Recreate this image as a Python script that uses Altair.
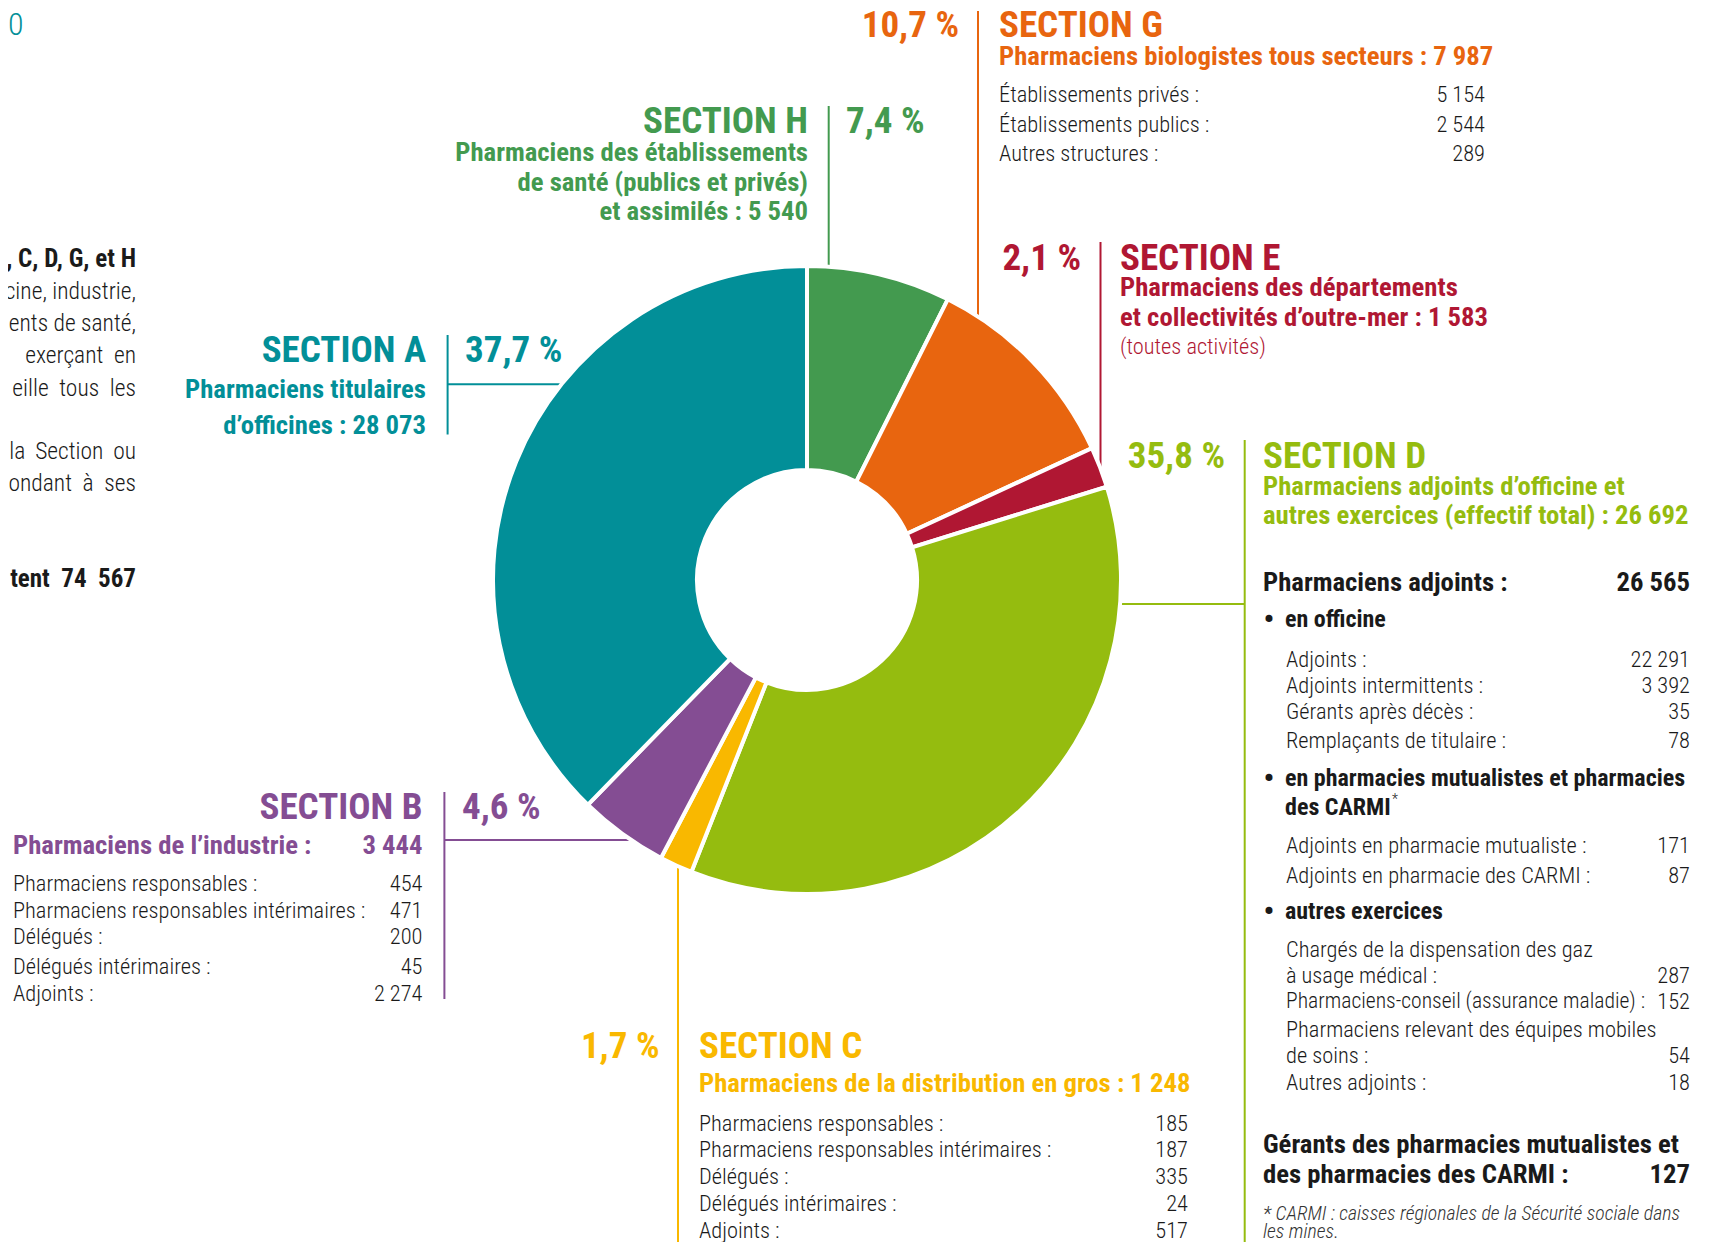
import math
import altair as alt
import pandas as pd

NB = "\u00a0"
TH = "\u2009"

# ---------------- data ----------------
slice_sections = ["H", "G", "E", "D", "C", "B", "A"]          # clockwise from 12 o'clock
slice_pct = [7.4, 10.7, 2.1, 35.8, 1.7, 4.6, 37.7]
slice_colors = ["#439A4F", "#E8650F", "#B01733", "#95BC0F", "#F9B800", "#844D93", "#028F98"]

intro_fragments = [", C, D, G, et H", "cine, industrie,", "ents de santé,", "exerçant en",
                   "eille tous les", "la Section ou", "ondant à ses", "tent 74 567"]
intro_fill = ["", "", "", NB, NB, TH, NB, NB]      # extra justified word spacing
intro_bold = [True, False, False, False, False, False, False, True]

a_sub = ["Pharmaciens titulaires", "d’officines : 28 073"]
h_sub = ["Pharmaciens des établissements", "de santé (publics et privés)", "et assimilés : 5 540"]
g_sub = ["Pharmaciens biologistes tous secteurs : 7 987"]
g_labels = ["Établissements privés :", "Établissements publics :", "Autres structures :"]
g_values = ["5 154", "2 544", "289"]
e_sub = ["Pharmaciens des départements", "et collectivités d’outre-mer : 1 583"]
e_note = "(toutes activités)"
d_sub = ["Pharmaciens adjoints d’officine et", "autres exercices (effectif total) : 26 692"]
d_total = ("Pharmaciens adjoints :", "26 565")
d_heads = ["en officine", "en pharmacies mutualistes et pharmacies", "des CARMI", "autres exercices"]
d_off_labels = ["Adjoints :", "Adjoints intermittents :", "Gérants après décès :", "Remplaçants de titulaire :"]
d_off_values = ["22 291", "3 392", "35", "78"]
d_mut_labels = ["Adjoints en pharmacie mutualiste :", "Adjoints en pharmacie des CARMI :"]
d_mut_values = ["171", "87"]
d_oth_labels = ["Chargés de la dispensation des gaz", "à usage médical :",
                "Pharmaciens-conseil (assurance maladie) :",
                "Pharmaciens relevant des équipes mobiles", "de soins :", "Autres adjoints :"]
d_oth_values = ["", "287", "152", "", "54", "18"]
d_gerants = (["Gérants des pharmacies mutualistes et", "des pharmacies des CARMI :"], "127")
d_note = ["* CARMI : caisses régionales de la Sécurité sociale dans", "les mines."]
c_sub = "Pharmaciens de la distribution en gros : 1 248"
c_labels = ["Pharmaciens responsables :", "Pharmaciens responsables intérimaires :", "Délégués :",
            "Délégués intérimaires :", "Adjoints :"]
c_values = ["185", "187", "335", "24", "517"]
b_sub = ("Pharmaciens de l’industrie :", "3 444")
b_labels = ["Pharmaciens responsables :", "Pharmaciens responsables intérimaires :", "Délégués :",
            "Délégués intérimaires :", "Adjoints :"]
b_values = ["454", "471", "200", "45", "2 274"]

# ---------------- layout ----------------
X0, Y0 = 8, 8
W, H = 1696, 1234
CX, CY, R, RIN = 807, 580, 313, 110
FONT = "'Roboto Condensed', 'DejaVu Sans Condensed', sans-serif"
HEAD, SUB, BODY, BUL, NOTE = 37, 26.7, 22.4, 24, 19.8
LIGHT = 300
BLACK = "#1a1a1a"
HDY = 2  # small vertical nudge for the big section headers
col = dict(zip(slice_sections, slice_colors))
pct = dict(zip(slice_sections, slice_pct))


def pct_label(s):
    return f"{pct[s]:.1f}".replace(".", ",") + " %"


recs = []


def txt(x, y, text, size, color, align="left", weight=LIGHT, style="normal"):
    recs.append(dict(x=x, y=y, text=text, size=size, color=color,
                     align=align, weight=weight, style=style))


def head(x, y, text, s, align):
    txt(x, y + HDY, text, HEAD, col[s], align, "bold")


# top-left cut title
txt(8, 25, "0", 32, col["A"], "left")
intro_y = [259, 291.5, 324, 356, 388.5, 452, 484, 579]
for t, f, yy, b in zip(intro_fragments, intro_fill, intro_y, intro_bold):
    spaced = (" " + f).join(t.split(" "))
    txt(136, yy, spaced, 25 if b else 23.5, BLACK, "right", "bold" if b else LIGHT)

# Section A
head(426, 349, "SECTION A", "A", "right")
head(465, 349, pct_label("A"), "A", "left")
for i, s in enumerate(a_sub):
    txt(426, 390 + i * 36, s, SUB, col["A"], "right", "bold")

# Section H
head(808, 120, "SECTION H", "H", "right")
head(846, 120, pct_label("H"), "H", "left")
for i, s in enumerate(h_sub):
    txt(808, 153 + i * 29.5, s, SUB, col["H"], "right", "bold")

# Section G
head(959, 24, pct_label("G"), "G", "right")
head(999, 24, "SECTION G", "G", "left")
txt(999, 57, g_sub[0], SUB, col["G"], "left", "bold")
for i, (l, v) in enumerate(zip(g_labels, g_values)):
    txt(999, 95 + i * 29.5, l, BODY, BLACK)
    txt(1485, 95 + i * 29.5, v, BODY, BLACK, "right")

# Section E
head(1081, 257, pct_label("E"), "E", "right")
head(1120, 257, "SECTION E", "E", "left")
for i, s in enumerate(e_sub):
    txt(1120, 288 + i * 30, s, SUB, col["E"], "left", "bold")
txt(1120, 347, e_note, BODY, col["E"])

# Section D
head(1225, 455, pct_label("D"), "D", "right")
head(1263, 455, "SECTION D", "D", "left")
for i, s in enumerate(d_sub):
    txt(1263, 487 + i * 28.5, s, SUB, col["D"], "left", "bold")
txt(1263, 583, d_total[0], SUB, BLACK, "left", "bold")
txt(1690, 583, d_total[1], SUB, BLACK, "right", "bold")
for yy in (620, 778.5, 912):
    txt(1269, yy, "•", 30, BLACK, "center", "bold")
for t, yy in zip(d_heads, (620, 778.5, 808, 912)):
    txt(1285, yy, t, BUL, BLACK, "left", "bold")
txt(1392, 800, "*", 14, BLACK)
for l, v, yy in zip(d_off_labels, d_off_values, (659.5, 685.5, 712, 741)):
    txt(1286, yy, l, BODY, BLACK)
    txt(1690, yy, v, BODY, BLACK, "right")
for l, v, yy in zip(d_mut_labels, d_mut_values, (846, 875.5)):
    txt(1286, yy, l, BODY, BLACK)
    txt(1690, yy, v, BODY, BLACK, "right")
for l, v, yy in zip(d_oth_labels, d_oth_values, (950, 976, 1002, 1029.5, 1056, 1083)):
    txt(1286, yy, l, 21.6 if len(l) > 40 else BODY, BLACK)
    if v:
        txt(1690, yy, v, BODY, BLACK, "right")
for s, yy in zip(d_gerants[0], (1145, 1175)):
    txt(1263, yy, s, SUB, BLACK, "left", "bold")
txt(1690, 1175, d_gerants[1], SUB, BLACK, "right", "bold")
for s, yy in zip(d_note, (1214, 1232)):
    txt(1263, yy, s, NOTE, "#333333", "left", LIGHT, "italic")

# Section C
head(659.5, 1045, pct_label("C"), "C", "right")
head(699, 1045, "SECTION C", "C", "left")
txt(699, 1084, c_sub, SUB, col["C"], "left", "bold")
for i, (l, v) in enumerate(zip(c_labels, c_values)):
    txt(699, 1123.5 + i * 26.8, l, BODY, BLACK)
    txt(1188, 1123.5 + i * 26.8, v, BODY, BLACK, "right")

# Section B
head(422.5, 806, "SECTION B", "B", "right")
head(462, 806, pct_label("B"), "B", "left")
txt(13, 846, b_sub[0], SUB, col["B"], "left", "bold")
txt(422.5, 846, b_sub[1], SUB, col["B"], "right", "bold")
for l, v, yy in zip(b_labels, b_values, (884, 910.5, 937, 967, 993.5)):
    txt(13, yy, l, BODY, BLACK)
    txt(422.5, yy, v, BODY, BLACK, "right")

texts = pd.DataFrame(recs)
texts["weight"] = texts["weight"].astype(str)


# ---------------- leader lines ----------------
def y_circle(x, top=True):
    d = math.sqrt(R * R - (x - CX) ** 2) - 3
    return CY - d if top else CY + d


def x_circle(y, right=True):
    d = math.sqrt(R * R - (y - CY) ** 2) - 3
    return CX + d if right else CX - d


segs = [
    ("H", 828.7, 106, 828.7, y_circle(828.7)),
    ("G", 978, 11, 978, y_circle(978)),
    ("E", 1100.5, 242, 1100.5, y_circle(1100.5)),
    ("D", 1244.7, 440, 1244.7, 1242),
    ("D", x_circle(604), 604, 1244.7, 604),
    ("C", 678, y_circle(678, False), 678, 1242),
    ("B", 444.4, 792, 444.4, 999),
    ("B", 444.4, 840, x_circle(840, False), 840),
    ("A", 447.6, 335, 447.6, 434.5),
    ("A", 447.6, 384.3, x_circle(384.3, False), 384.3),
]
lines = pd.DataFrame([dict(x=a, y=b, x2=c, y2=d, color=col[s]) for s, a, b, c, d in segs])

slices = pd.DataFrame(dict(section=slice_sections, pct=slice_pct, color=slice_colors,
                           idx=list(range(len(slice_sections)))))

xs = alt.Scale(domain=[X0, X0 + W], nice=False, zero=False)
ys = alt.Scale(domain=[Y0, Y0 + H], nice=False, zero=False, reverse=True)

rules = alt.Chart(lines).mark_rule(strokeWidth=2).encode(
    x=alt.X("x:Q", scale=xs, axis=None),
    y=alt.Y("y:Q", scale=ys, axis=None),
    x2="x2:Q", y2="y2:Q",
    color=alt.Color("color:N", scale=None),
)

donut = alt.Chart(slices).mark_arc(innerRadius=RIN, outerRadius=R + 1, stroke="white",
                                   strokeWidth=4).encode(
    theta=alt.Theta("pct:Q", stack=True),
    order=alt.Order("idx:Q"),
    color=alt.Color("color:N", scale=None),
    x=alt.value(CX - X0),
    y=alt.value(CY - Y0),
)

layers = [rules, donut]
for (al, wt, st), g in texts.groupby(["align", "weight", "style"]):
    w = int(wt) if wt.isdigit() else wt
    layers.append(
        alt.Chart(g.reset_index(drop=True)).mark_text(
            align=al, baseline="middle", fontWeight=w, fontStyle=st, font=FONT
        ).encode(
            x=alt.X("x:Q", scale=xs, axis=None),
            y=alt.Y("y:Q", scale=ys, axis=None),
            text="text:N",
            color=alt.Color("color:N", scale=None),
            size=alt.Size("size:Q", scale=None),
        )
    )

chart = alt.layer(*layers).properties(
    width=W, height=H, padding=0, autosize=alt.AutoSizeParams(type="none")
).configure_view(stroke=None)

chart.save("out.html", embed_options={"renderer": "svg", "actions": False})
